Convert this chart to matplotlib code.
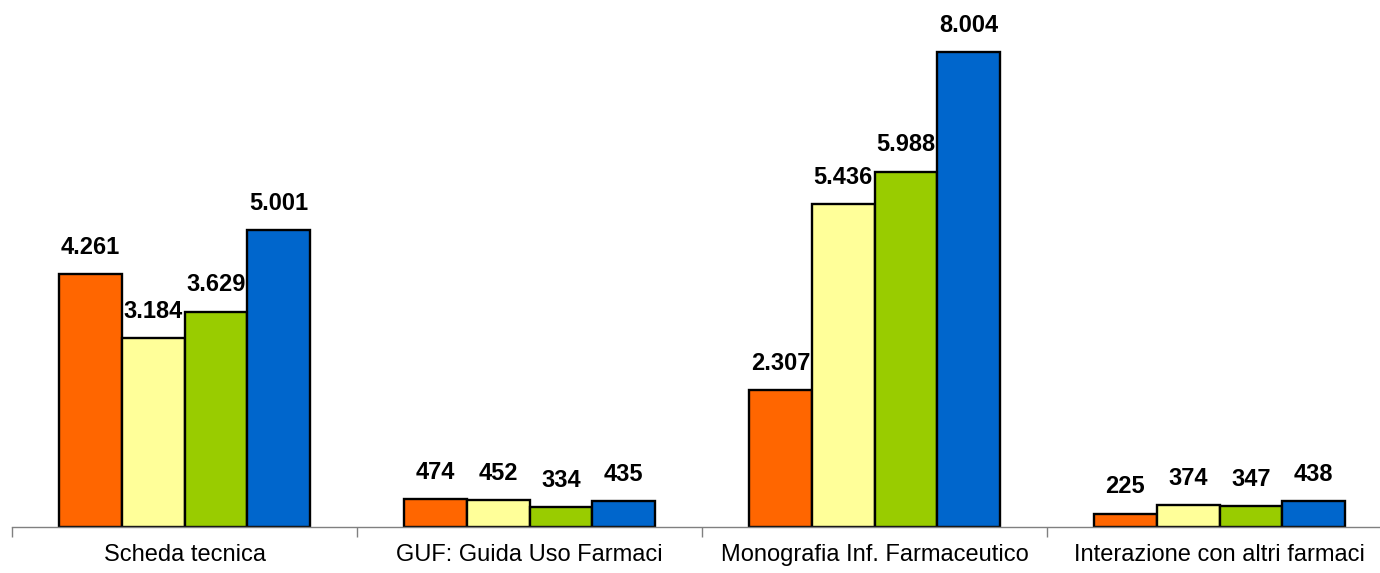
import numpy as np
import matplotlib.pyplot as plt

plt.rcParams['font.family'] = ['Liberation Sans', 'DejaVu Sans']

categories = ["Scheda tecnica", "GUF: Guida Uso Farmaci",
              "Monografia Inf. Farmaceutico", "Interazione con altri farmaci"]
s1 = [4261, 474, 2307, 225]
s2 = [3184, 452, 5436, 374]
s3 = [3629, 334, 5988, 347]
s4 = [5001, 435, 8004, 438]
series = [s1, s2, s3, s4]
colors = ["#FF6600", "#FFFF99", "#99CC00", "#0066CC"]


def fmt(v):
    return f"{v:,}".replace(",", ".")


fig = plt.figure(figsize=(13.8, 5.73), dpi=100)
ax = fig.add_axes([12 / 1380, 46 / 573, 1380 / 1380, 527 / 573])

x = np.arange(len(categories))
w = 0.182
for i, (vals, c) in enumerate(zip(series, colors)):
    pos = x + (i - 1.5) * w
    ax.bar(pos, vals, width=w, color=c, edgecolor="black", linewidth=1.7)
    for p, v in zip(pos, vals):
        ax.annotate(fmt(v), (p, v), xytext=(0, 11), textcoords="offset points",
                    ha="center", va="bottom", fontsize=17, fontweight="bold")

ax.set_xlim(-0.5, len(categories) - 0.5)
ax.set_ylim(0, 8881)
ax.set_yticks([])
ax.set_xticks(np.arange(len(categories) + 1) - 0.5)
ax.set_xticklabels([])
ax.set_xticks(x, minor=True)
ax.set_xticklabels(categories, minor=True, fontsize=17)
ax.tick_params(axis="x", which="minor", length=0, pad=12)
ax.tick_params(axis="x", which="major", length=7, color="#808080", width=1)
for s in ["top", "right", "left"]:
    ax.spines[s].set_visible(False)
ax.spines["bottom"].set_color("#808080")
ax.spines["bottom"].set_linewidth(1)

fig.savefig("out.png", dpi=100)
